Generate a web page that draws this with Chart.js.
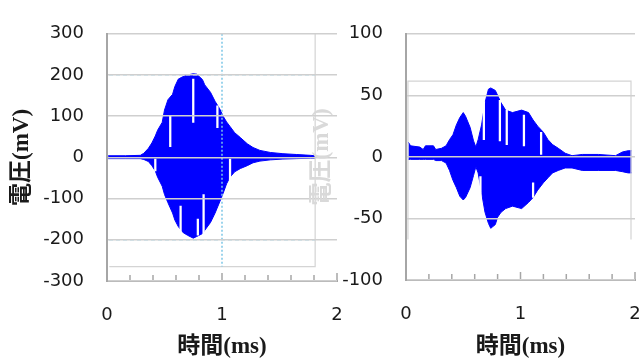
<!DOCTYPE html>
<html lang="ja">
<head>
<meta charset="utf-8">
<script src="https://cdn.jsdelivr.net/npm/chart.js@4.4.1/dist/chart.umd.min.js"></script>
<style>
    html, body { margin: 0; padding: 0; background: #fff; }
    .wrap { position: relative; width: 639px; height: 359px; overflow: hidden; }
    .wrap canvas { position: absolute; top: 0; }
    #leftChart { left: 0; }
    #rightChart { left: 306px; }
</style>
</head>
<body>
<div class="wrap">
    <canvas id="leftChart" width="639" height="359"></canvas>
    <canvas id="rightChart" width="639" height="359"></canvas>
</div>
<script>
// left panel: envelope of the waveform (ms / mV)
const leftTime = [0.01, 0.16, 0.29, 0.32, 0.36, 0.39, 0.42, 0.44, 0.48, 0.50, 0.53, 0.57, 0.59, 0.62, 0.66, 0.70, 0.75, 0.78, 0.83, 0.85, 0.90, 0.94, 0.98, 1.01, 1.04, 1.07, 1.11, 1.16, 1.22, 1.27, 1.33, 1.42, 1.53, 1.65, 1.77, 1.81];
const leftUpper = [4, 4, 5, 10, 22, 35, 52, 66, 85, 115, 140, 153, 172, 190, 196, 200, 203, 202, 189, 176, 158, 136, 118, 100, 86, 75, 60, 48, 33, 24, 17, 12, 9, 7, 5, 4];
const leftLower = [-3, -3, -3, -5, -10, -20, -33, -48, -70, -90, -110, -135, -152, -168, -182, -189, -196, -192, -185, -177, -158, -135, -108, -87, -64, -48, -35, -27, -20, -13, -9, -6, -4, -3, -2, -2];
// thin white gaps inside the trace
const leftGapTime = [0.42, 0.55, 0.64, 0.75, 0.79, 0.84, 0.96, 1.07];
const leftGapTop = [-4, 101, -118, 190, -150, -90, 125, -4];
const leftGapBottom = [-33, 26, -183, 85, -189, -192, 72, -78];

// right panel
const rightTime = [0.02, 0.04, 0.12, 0.15, 0.17, 0.24, 0.26, 0.31, 0.35, 0.38, 0.41, 0.44, 0.47, 0.50, 0.52, 0.56, 0.59, 0.61, 0.63, 0.66, 0.69, 0.72, 0.74, 0.78, 0.80, 0.83, 0.87, 0.93, 1.01, 1.07, 1.11, 1.15, 1.20, 1.24, 1.28, 1.33, 1.39, 1.45, 1.54, 1.68, 1.83, 1.89, 1.94, 1.97];
const rightUpper = [12, 9, 8, 6, 9, 9, 6, 7, 9, 14, 18, 26, 32, 36, 33, 24, 13, 8, 14, 26, 44, 55, 56, 54, 50, 44, 38, 36, 38, 36, 30, 25, 20, 14, 10, 7, 3, 1, 2, 2, 1, 4, 5, 5];
const rightLower = [-2, -2, -2, -2, -2, -2, -3, -3, -5, -11, -19, -25, -32, -35, -33, -25, -15, -8, -13, -29, -45, -54, -58, -55, -49, -45, -42, -40, -42, -37, -33, -27, -21, -17, -13, -11, -9, -9, -11, -11, -11, -12, -13, -13];
const rightGapTime = [0.65, 0.68, 0.82, 0.88, 1.03, 1.11, 1.18];
const rightGapTop = [-16, 45, 46, 38, 34, -21, 20];
const rightGapBottom = [-37, 14, 13, 10, 9, -33, 2];

const leftYTicks = { min: -300, max: 300, step: 100 };
const rightYTicks = { min: -100, max: 100, step: 50 };
const xTicks = { min: 0, max: 2, step: 0.2 };

const yTitle = '電圧(mV)';
const xTitle = '時間(ms)';

const tickFont = { family: 'DejaVu Sans', size: 18 };
const titleFont = { family: '"Liberation Serif", "Noto Sans CJK JP"', size: 23, weight: 'bold', lineHeight: 1 };
const blue = '#0000ff';
const axisGray = '#a6a6a6';

const toPoints = (xs, ys) => xs.map((x, i) => ({ x: x, y: ys[i] }));
const toRanges = (xs, lo, hi) => xs.map((x, i) => ({ x: x, y: [lo[i], hi[i]] }));

// small tick marks pointing up from the x axis + the leftover frame of the inner plot
const framePlugin = {
    id: 'frame',
    afterDatasetsDraw(chart, args, opts) {
        const { ctx, chartArea } = chart;
        const x = chart.scales.x;
        const y = chart.scales.y;
        ctx.save();
        if (opts.box) {
            const b = opts.box;
            const l = x.getPixelForValue(b.x0), r = x.getPixelForValue(b.x1);
            const t = y.getPixelForValue(b.top), btm = y.getPixelForValue(b.bottom);
            ctx.strokeStyle = '#d4d4d4';
            ctx.lineWidth = 1.2;
            ctx.beginPath();
            if (opts.boxTop) { ctx.moveTo(l, btm); ctx.lineTo(l, t); ctx.lineTo(r, t); ctx.lineTo(r, btm); }
            else { ctx.moveTo(l, btm); ctx.lineTo(r, btm); ctx.lineTo(r, t); }
            ctx.stroke();
        }
        if (opts.dashed) {
            ctx.strokeStyle = '#a9dcef';
            ctx.lineWidth = 1.2;
            ctx.setLineDash([4, 3]);
            opts.dashed.forEach(v => {
                const py = y.getPixelForValue(v);
                ctx.beginPath();
                ctx.moveTo(chartArea.left + 2, py);
                ctx.lineTo(x.getPixelForValue(opts.box.x1), py);
                ctx.stroke();
            });
        }
        if (opts.marker !== undefined) {
            const px = x.getPixelForValue(opts.marker);
            ctx.strokeStyle = '#7cc6e6';
            ctx.lineWidth = 1.5;
            ctx.setLineDash([2, 2]);
            ctx.beginPath();
            ctx.moveTo(px, chartArea.top);
            ctx.lineTo(px, y.getPixelForValue(opts.box.bottom));
            ctx.stroke();
        }
        ctx.setLineDash([]);
        ctx.strokeStyle = axisGray;
        ctx.lineWidth = 1.5;
        x.ticks.forEach(tk => {
            if (tk.value <= 0) return;
            const px = x.getPixelForValue(tk.value);
            const len = Math.abs(tk.value - Math.round(tk.value)) < 1e-6 ? 8 : 6;
            ctx.beginPath();
            ctx.moveTo(px, chartArea.bottom);
            ctx.lineTo(px, chartArea.bottom - len);
            ctx.stroke();
        });
        ctx.restore();
    },
};

function makeChart(canvas, cfg) {
    return new Chart(canvas, {
        type: 'line',
        data: {
            datasets: [
                {
                    data: toPoints(cfg.time, cfg.upper),
                    borderColor: blue,
                    backgroundColor: blue,
                    borderWidth: 1,
                    pointRadius: 0,
                    fill: '+1',
                },
                {
                    data: toPoints(cfg.time, cfg.lower),
                    borderColor: blue,
                    backgroundColor: blue,
                    borderWidth: 1,
                    pointRadius: 0,
                    fill: false,
                },
                {
                    type: 'bar',
                    data: toRanges(cfg.gapTime, cfg.gapBottom, cfg.gapTop),
                    backgroundColor: '#ffffff',
                    borderWidth: 0,
                    barThickness: 1.6,
                    grouped: false,
                    order: -1, // on top of the fill
                },
            ],
        },
        options: {
            responsive: false,
            animation: false,
            layout: { padding: cfg.padding, autoPadding: false },
            plugins: {
                legend: { display: false },
                tooltip: { enabled: false },
                frame: cfg.frame,
            },
            scales: {
                x: {
                    type: 'linear',
                    min: xTicks.min,
                    max: xTicks.max,
                    offset: false,
                    afterFit: s => { s.height = cfg.xHeight; },
                    ticks: {
                        stepSize: xTicks.step,
                        autoSkip: false,
                        maxRotation: 0,
                        padding: 24,
                        color: '#1a1a1a',
                        font: tickFont,
                        callback: v => (Math.abs(v - Math.round(v)) < 1e-6 ? String(Math.round(v)) : ''),
                    },
                    grid: { drawOnChartArea: false, drawTicks: false, tickLength: 0, offset: false },
                    border: { color: axisGray, width: 2 },
                    title: {
                        display: true,
                        text: xTitle,
                        color: '#1a1a1a',
                        font: titleFont,
                        padding: { top: 0, bottom: 0 },
                    },
                },
                y: {
                    min: cfg.yTicks.min,
                    max: cfg.yTicks.max,
                    afterFit: s => { s.width = cfg.yWidth; },
                    ticks: {
                        stepSize: cfg.yTicks.step,
                        padding: 23,
                        color: '#1a1a1a',
                        font: tickFont,
                    },
                    // grid above the waveform, border after the grid
                    grid: { color: '#cfcfcf', lineWidth: 1.5, drawTicks: false, tickLength: 0, z: 1 },
                    border: { color: axisGray, width: 2, z: 2 },
                    title: {
                        display: true,
                        text: yTitle,
                        color: cfg.yTitleColor,
                        font: titleFont,
                        padding: { top: cfg.yTitlePad, bottom: 0 },
                    },
                },
            },
        },
        plugins: [framePlugin],
    });
}

makeChart(document.querySelector('#leftChart'), {
    time: leftTime,
    upper: leftUpper,
    lower: leftLower,
    gapTime: leftGapTime,
    gapTop: leftGapTop,
    gapBottom: leftGapBottom,
    yTicks: leftYTicks,
    padding: { left: 0, top: 27, right: 302, bottom: 0 },
    yWidth: 107,
    xHeight: 78,
    yTitleColor: '#1a1a1a',
    yTitlePad: 11,
    frame: { box: { x0: 0.02, x1: 1.81, top: 300, bottom: -265 }, boxTop: false, dashed: [200, -200], marker: 1 },
});

// the right canvas is shifted to x=306 and is as wide as the page, like the left one
makeChart(document.querySelector('#rightChart'), {
    time: rightTime,
    upper: rightUpper,
    lower: rightLower,
    gapTime: rightGapTime,
    gapTop: rightGapTop,
    gapBottom: rightGapBottom,
    yTicks: rightYTicks,
    padding: { left: 0, top: 27, right: 310, bottom: 0 },
    yWidth: 100,
    xHeight: 79,
    yTitleColor: '#d9d9d9',
    yTitlePad: 5,
    frame: { box: { x0: 0.017, x1: 1.965, top: 61.5, bottom: -67 }, boxTop: true },
});
</script>
</body>
</html>
